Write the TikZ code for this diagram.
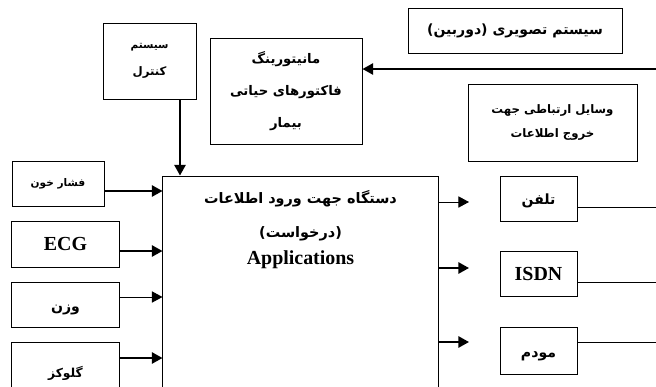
\documentclass[tikz,border=0pt]{standalone}
\usepackage{fontspec}
\setmainfont{Liberation Serif}
\newfontfamily\arabicfont[Script=Arabic]{DejaVu Sans}
\TeXXeTstate=1
\usetikzlibrary{arrows.meta, positioning}
\newcommand{\Fa}[1]{\beginR#1\endR}
\newcommand{\Size}[2]{\fontsize{#1}{#2}\selectfont}
\newcommand{\Latin}[1]{{\normalfont\bfseries\fontsize{17}{20}\selectfont #1}}
\tikzset{
    box/.style={draw, line width=0.85pt, inner sep=0pt, align=center, fa={12}{19}},
    fa/.style 2 args={font=\arabicfont\bfseries\fontsize{#1}{#2}\selectfont},
    oneline/.style={text height=#1, text depth=1pt},
    oneline/.default=12pt,
    wire/.style={line width=0.85pt},
    heavy/.style={line width=1.7pt},
}

\begin{document}
\begin{tikzpicture}[x=0.03cm, y=-0.03cm, >={Triangle[length=9pt,width=9.5pt]}]
    \clip (0,0) rectangle (656,386);

    % top row
    \node[box, fa={10}{23}, minimum width=2.79cm, minimum height=2.28cm] (control) at (149.5,61)
      {{\Size{9}{23}\Fa{سیستم}}\\\Fa{کنترل}};
    \node[box, fa={11.3}{27}, minimum width=4.56cm, minimum height=3.18cm] (monitor) at (286,91)
      {\Fa{مانیتورینگ}\\\Fa{فاکتورهای حیاتی}\\\Fa{بیمار}};
    \node[box, minimum width=6.42cm, minimum height=1.35cm] (camera) at (515,30.5)
      {\Fa{سیستم تصویری (دوربین)}};
    \node[box, fa={10}{21}, minimum width=5.07cm, minimum height=2.31cm] (comm) at (552.5,122.5)
      {\Fa{وسایل ارتباطی جهت}\\\Fa{خروج اطلاعات}};

    % main device
    \node[box, minimum width=8.25cm, minimum height=6.72cm] (main) at (300.5,288) {};
    \node[box, fa={12.3}{29}, draw=none, below=0.42cm of main.north] (maintext)
      {\Fa{دستگاه جهت ورود اطلاعات}\\\Fa{(درخواست)}\\[-6pt]\Latin{Applications}};

    % inputs
    \node[box, fa={9}{12}, minimum width=2.76cm, minimum height=1.35cm] (bp) at (58,183.5)
      {\Fa{فشار خون}};
    \node[box, minimum width=3.21cm, minimum height=1.38cm] (ecg) at (65.5,244) {\Latin{ECG}};
    \node[box, oneline=13pt, minimum width=3.21cm, minimum height=1.35cm] (weight) at (65.5,304.5) {\Fa{وزن}};
    \node[box, fa={10.5}{12}, oneline=10pt, minimum width=3.21cm, minimum height=1.8cm] (glucose) at (65.5,372)
      {\Fa{گلوکز}};

    % outputs
    \node[box, oneline, minimum width=2.31cm, minimum height=1.35cm] (tel) at (538.5,198.5) {\Fa{تلفن}};
    \node[box, minimum width=2.31cm, minimum height=1.35cm] (isdn) at (538.5,274) {\Latin{ISDN}};
    \node[box, oneline=13pt, minimum width=2.31cm, minimum height=1.41cm] (modem) at (538.5,350.5) {\Fa{مودم}};

    \coordinate (edge) at (656,0);

    % connectors
    \draw[heavy, ->] (control.south -| 180,0) -- (main.north -| 180,0);
    \draw[heavy, ->] (edge |- 0,69) -- (monitor.east |- 0,69);

    \draw[heavy, ->] (bp.east |- 0,191) -- (main.west |- 0,191);
    \draw[heavy, ->] (ecg.east |- 0,251) -- (main.west |- 0,251);
    \draw[wire, ->] (weight.east |- 0,297) -- (main.west |- 0,297);
    \draw[heavy, ->] (glucose.east |- 0,358) -- (main.west |- 0,358);

    \draw[wire, ->] (main.east |- 0,202) -- (469,202);
    \draw[heavy, ->] (main.east |- 0,268) -- (469,268);
    \draw[heavy, ->] (main.east |- 0,342) -- (469,342);

    \draw[wire] (tel.east |- 0,207) -- (edge |- 0,207);
    \draw[wire] (isdn.east |- 0,282) -- (edge |- 0,282);
    \draw[wire] (modem.east |- 0,342) -- (edge |- 0,342);
\end{tikzpicture}
\end{document}
